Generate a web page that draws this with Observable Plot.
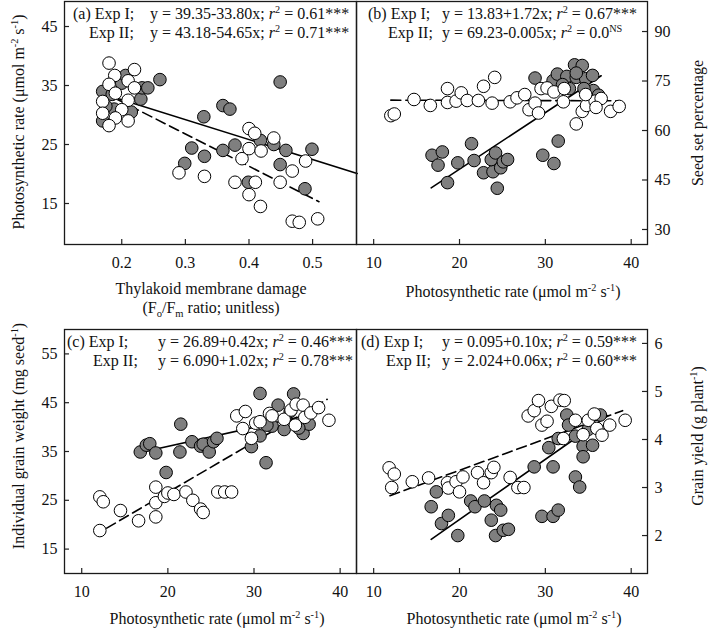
<!DOCTYPE html>
<html><head><meta charset="utf-8">
<script src="https://cdn.jsdelivr.net/npm/d3@7"></script>
<script src="https://cdn.jsdelivr.net/npm/@observablehq/plot@0.6"></script>
<style>
body{margin:0;background:#fff;}
#chart{position:relative;width:709px;height:630px;background:#fff;overflow:hidden;}
#chart .panel{position:absolute;}
#overlay{position:absolute;left:0;top:0;pointer-events:none;}
#overlay text{white-space:pre;}
</style></head><body><div id="chart"></div>
<script>
// ---------- DATA ----------
// Panel (a): x = thylakoid membrane damage, y = photosynthetic rate
const aExp1X = [0.17,0.17,0.188,0.2,0.206,0.23,0.232,0.241,0.26,0.185,0.215,0.175,0.299,0.31,0.33,0.329,0.359,0.37,0.359,0.378,0.399,0.418,0.439,0.449,0.449,0.458,0.488,0.499];
const aExp1Y = [34.0,29.0,31.0,35.4,36.7,32.7,34.6,34.6,36.0,33.5,30.5,31.5,21.8,24.4,23.0,29.7,31.6,31.0,24.0,24.9,18.6,25.7,25.0,35.6,21.6,24.0,17.5,24.2];
const aExp2X = [0.18,0.189,0.22,0.18,0.21,0.22,0.19,0.21,0.17,0.17,0.2,0.19,0.21,0.18,0.29,0.33,0.378,0.389,0.4,0.409,0.4,0.419,0.439,0.41,0.4,0.418,0.449,0.468,0.489,0.468,0.479,0.508];
const aExp2Y = [38.8,36.7,37.7,35.2,35.8,34.6,33.7,32.5,32.3,30.3,30.9,29.5,29.0,28.2,20.2,19.6,18.6,22.6,27.7,26.9,24.3,23.9,26.1,18.6,16.5,14.5,18.6,20.5,22.2,12.0,11.8,12.4];
// Panel (b): x = photosynthetic rate, y = seed set percentage
const bExp1X = [16.8,18.0,17.5,18.6,19.8,21.4,21.7,22.8,23.9,23.7,24.2,24.8,25.1,25.6,24.4,29.7,31.0,31.5,28.8,30.9,31.4,32.5,33.4,34.3,33.6,34.7,35.5,35.6,34.5,36.2,32.8,32.0,33.6];
const bExp1Y = [52.5,53.5,49.5,44.2,50.2,56.0,50.9,47.2,47.5,51.2,53.2,48.7,50.5,51.2,42.5,52.5,50.0,56.8,75.9,75.1,77.1,76.4,79.9,79.7,76.1,75.7,76.7,72.1,72.7,70.7,72.7,73.9,77.4];
const bExp2X = [12.0,12.4,14.7,16.6,18.6,18.6,19.6,20.2,20.9,22.2,22.8,24.1,23.8,25.9,26.7,27.6,28.1,28.8,29.2,29.5,30.2,31.0,32.1,32.2,33.6,34.3,34.8,35.8,36.5,37.6,38.6,34.7,35.9];
const bExp2Y = [64.5,65.0,69.4,67.6,72.7,68.5,68.9,71.4,69.1,69.1,73.4,76.1,68.3,68.7,69.9,70.9,66.3,68.3,65.3,72.7,72.9,71.7,68.7,72.7,62.0,65.8,67.6,68.9,69.7,65.8,67.3,70.9,67.0];
// Panel (c): x = photosynthetic rate, y = individual grain weight
const cExp1X = [16.8,17.5,17.9,18.6,19.8,21.4,21.5,22.8,23.8,24.1,24.8,25.3,25.7,29.7,30.7,30.7,31.4,32.8,32.1,33.5,34.6,35.7,36.4,34.2,31.5,35.2];
const cExp1Y = [34.9,36.3,36.6,34.7,30.7,34.9,40.6,37.0,36.1,36.5,34.9,37.0,37.7,36.0,46.9,38.2,32.7,44.5,40.2,39.5,46.8,38.7,40.6,43.2,40.4,39.8];
const cExp2X = [12.1,12.5,12.1,14.5,16.6,18.6,18.6,18.6,19.6,20.0,20.7,22.1,22.9,23.8,24.1,25.8,26.6,27.4,28.0,28.7,29.7,29.0,30.2,30.7,31.8,32.1,33.5,34.3,34.9,35.7,35.9,36.6,37.5,38.7,34.8];
const cExp2Y = [25.7,24.7,18.8,22.9,20.8,27.7,24.5,21.6,25.8,26.5,26.2,26.7,25.0,23.2,22.5,26.7,26.7,26.7,42.3,39.7,37.7,43.2,40.8,41.1,42.8,42.3,41.6,43.5,44.7,44.5,42.0,42.9,44.0,41.4,40.4];
// Panel (d): x = photosynthetic rate, y = grain yield
const dExp1X = [16.7,17.3,17.9,18.7,19.8,21.3,21.8,22.9,23.7,24.3,24.2,24.8,25.1,25.7,28.7,29.6,30.9,30.9,31.5,30.4,31.5,32.5,32.7,33.5,33.5,34.0,34.4,34.4,35.5,36.4,35.0];
const dExp1Y = [2.6,2.91,2.25,2.42,2.0,2.72,2.6,2.72,2.32,2.63,2.0,2.53,2.11,2.13,3.43,2.40,3.43,2.40,2.53,3.83,4.02,4.51,4.30,4.07,3.22,3.01,3.86,3.64,3.88,4.51,4.21];
const dExp2X = [11.8,12.4,12.1,14.5,16.4,18.6,18.7,19.6,20.0,20.4,22.1,22.8,23.7,24.0,25.9,26.8,27.5,28.0,28.7,29.2,29.6,30.2,30.7,31.7,32.2,32.1,33.5,34.4,35.0,35.7,36.0,36.6,37.5,39.3];
const dExp2Y = [3.41,3.28,3.0,3.12,3.2,3.1,2.99,3.12,2.91,3.22,3.31,3.1,3.31,3.42,3.21,3.0,3.0,4.49,4.6,4.81,4.3,4.38,4.69,4.82,4.81,4.02,4.40,4.10,4.40,4.53,4.23,4.09,4.30,4.40];
// Regression lines (end points, as drawn)
const fitA1X = [0.17,0.57], fitA1Y = [33.6,20.1];
const fitA2X = [0.17,0.51], fitA2Y = [33.9,15.3];
const fitB1X = [16.7,36.5], fitB1Y = [42.6,76.6];
const fitB2X = [12.0,38.7], fitB2Y = [69.2,69.0];
const fitC1X = [16.8,36.5], fitC1Y = [34.8,42.5];
const fitC2X = [12.9,38.5], fitC2Y = [19.3,45.7];
const fitD1X = [16.7,37.3], fitD1Y = [1.92,4.5];
const fitD2X = [11.9,39.0], fitD2Y = [2.83,4.6];
// Tick values
const ticksDamage = [0.2,0.3,0.4,0.5];
const ticksPn = [10,20,30,40];
const ticksPnRate = [15,25,35,45];
const ticksSeedSet = [30,45,60,75,90];
const ticksGrainWt = [15,25,35,45,55];
const ticksYield = [2,3,4,5,6];
// Texts
const annoA = ["(a) Exp I;", "Exp II;"], eqA = ["y = 39.35-33.80x; ~r~^{2} = 0.61***", "y = 43.18-54.65x; ~r~^{2} = 0.71***"];
const annoB = ["(b) Exp I;", "Exp II;"], eqB = ["y = 13.83+1.72x; ~r~^{2} = 0.67***", "y = 69.23-0.005x; ~r~^{2} = 0.0^{NS}"];
const annoC = ["(c) Exp I;", "Exp II;"], eqC = ["y = 26.89+0.42x; ~r~^{2} = 0.46***", "y = 6.090+1.02x; ~r~^{2} = 0.78***"];
const annoD = ["(d) Exp I;", "Exp II;"], eqD = ["y = 0.095+0.10x; ~r~^{2} = 0.59***", "y = 2.024+0.06x; ~r~^{2} = 0.60***"];
const titlePn = "Photosynthetic rate (μmol m^{-2} s^{-1})";
const titleDamage1 = "Thylakoid membrane damage";
const titleDamage2 = "(F_{o}/F_{m} ratio; unitless)";
const titleSeedSet = "Seed set percentage";
const titleGrainWt = "Individual grain weight (mg seed^{-1})";
const titleYield = "Grain yield (g plant^{-1})";

// ---------- DRAW ----------
const FONT = "Liberation Serif, Times New Roman, serif";
const zip = (xs, ys) => xs.map((x, i) => ({x, y: ys[i]}));
const fmt = d => String(d);

function panel(o) {
  const innerH = o.height - o.mt - o.mb, innerW = o.width - o.ml - o.mr;
  const tickYOpts = o.yAnchor === "left" ? {insetRight: innerW - 5} : {insetLeft: innerW - 5};
  return Plot.plot({
    width: o.width, height: o.height,
    marginTop: o.mt, marginBottom: o.mb, marginLeft: o.ml, marginRight: o.mr,
    x: {domain: o.xDomain, label: null},
    y: {domain: o.yDomain, label: null},
    style: {fontFamily: FONT, fontSize: "16px", color: "#111", background: "transparent", overflow: "visible"},
    marks: [
      Plot.tickX(o.xTicks, {x: d => d, insetTop: innerH - 5, stroke: "#222", strokeWidth: 1.2}),
      Plot.tickY(o.yTicks, {y: d => d, stroke: "#222", strokeWidth: 1.2, ...tickYOpts}),
      Plot.axisX({ticks: o.xTicks, tickFormat: fmt, tickSize: 0, tickPadding: 12, label: null}),
      Plot.axisY({ticks: o.yTicks, tickFormat: fmt, anchor: o.yAnchor, tickSize: 0, tickPadding: 7, label: null}),
      Plot.line(o.f1, {x: "x", y: "y", stroke: "#000", strokeWidth: 1.6}),
      Plot.line(o.f2, {x: "x", y: "y", stroke: "#000", strokeWidth: 1.6, strokeDasharray: "10,5"}),
      Plot.dot(o.s1, {x: "x", y: "y", r: 6.3, fill: "#7f7f7f", stroke: "#000", strokeWidth: 1}),
      Plot.dot(o.s2, {x: "x", y: "y", r: 6.3, fill: "#fff", stroke: "#000", strokeWidth: 1}),
      Plot.frame({stroke: "#1a1a1a", strokeWidth: 1.3})
    ]
  });
}

const chart = document.getElementById("chart");
function place(svg, left, top) {
  const div = document.createElement("div");
  div.className = "panel";
  div.style.left = left + "px"; div.style.top = top + "px";
  div.appendChild(svg); chart.appendChild(div);
}

place(panel({width: 357, height: 320, mt: 1, mb: 76, ml: 64, mr: 1, xDomain: [0.11, 0.569], yDomain: [8.05, 49.24],
  xTicks: ticksDamage, yTicks: ticksPnRate, yAnchor: "left",
  s1: zip(aExp1X, aExp1Y), s2: zip(aExp2X, aExp2Y), f1: zip(fitA1X, fitA1Y), f2: zip(fitA2X, fitA2Y)}), 0, 0);
place(panel({width: 353, height: 320, mt: 1, mb: 76, ml: 0, mr: 62, xDomain: [8.0, 41.9], yDomain: [25.45, 99.1],
  xTicks: ticksPn, yTicks: ticksSeedSet, yAnchor: "right",
  s1: zip(bExp1X, bExp1Y), s2: zip(bExp2X, bExp2Y), f1: zip(fitB1X, fitB1Y), f2: zip(fitB2X, fitB2Y)}), 356, 0);
place(panel({width: 357, height: 310, mt: 9, mb: 57, ml: 64, mr: 1, xDomain: [8.0, 41.9], yDomain: [10, 60],
  xTicks: ticksPn, yTicks: ticksGrainWt, yAnchor: "left",
  s1: zip(cExp1X, cExp1Y), s2: zip(cExp2X, cExp2Y), f1: zip(fitC1X, fitC1Y), f2: zip(fitC2X, fitC2Y)}), 0, 320);
place(panel({width: 353, height: 310, mt: 9, mb: 57, ml: 0, mr: 62, xDomain: [8.0, 41.9], yDomain: [1.21, 6.29],
  xTicks: ticksPn, yTicks: ticksYield, yAnchor: "right",
  s1: zip(dExp1X, dExp1Y), s2: zip(dExp2X, dExp2Y), f1: zip(fitD1X, fitD1Y), f2: zip(fitD2X, fitD2Y)}), 356, 320);

// ---------- RICH TEXT OVERLAY ----------
const overlay = d3.create("svg").attr("id", "overlay").attr("width", 709).attr("height", 630)
  .attr("font-family", FONT).attr("fill", "#111");
chart.appendChild(overlay.node());

function rich(textSel, str, fs) {
  const parts = str.split(/(\^\{[^}]*\}|_\{[^}]*\}|~[^~]*~)/).filter(s => s !== "");
  let shift = 0;
  for (const p of parts) {
    let t = p, dy = 0, size = null, italic = false;
    if (p.startsWith("^{")) { t = p.slice(2, -1); dy = -0.38 * fs; size = 0.64 * fs; }
    else if (p.startsWith("_{")) { t = p.slice(2, -1); dy = 0.28 * fs; size = 0.66 * fs; }
    else if (p.startsWith("~")) { t = p.slice(1, -1); italic = true; }
    const ts = textSel.append("tspan").text(t);
    const d = dy - shift;
    if (d) ts.attr("dy", d.toFixed(2));
    shift = dy;
    if (size) ts.attr("font-size", size.toFixed(2));
    if (italic) ts.attr("font-style", "italic");
  }
  return textSel;
}
function label(str, x, y, fs, anchor = "start", rotate = 0) {
  const t = overlay.append("text").attr("font-size", fs).attr("text-anchor", anchor)
    .attr("transform", `translate(${x},${y})` + (rotate ? ` rotate(${rotate})` : ""));
  rich(t, str, fs);
}

// annotations inside panels
const AF = 16;
function annotate(lab, eq, labX, eqX, top) {
  label(lab[0], labX[0], top + 18, AF); label(eq[0], eqX, top + 18, AF);
  label(lab[1], labX[1], top + 37, AF); label(eq[1], eqX, top + 37, AF);
}
annotate(annoA, eqA, [73, 89], 150, 1);
annotate(annoB, eqB, [368, 388], 442, 1);
annotate(annoC, eqC, [67, 93], 158, 329);
annotate(annoD, eqD, [361, 386], 442, 329);

// axis titles
const TF = 16;
label(titleDamage1, 211, 294, TF, "middle");
label(titleDamage2, 211, 313, TF, "middle");
label(titlePn, 513, 297, TF, "middle");
label(titlePn, 217, 624, TF, "middle");
label(titlePn, 514, 624, TF, "middle");
label(titlePn, 24, 122, TF, "middle", -90);
label(titleSeedSet, 703, 123, TF, "middle", -90);
label(titleGrainWt, 24, 436, TF, "middle", -90);
label(titleYield, 703, 436, TF, "middle", -90);
</script></body></html>
